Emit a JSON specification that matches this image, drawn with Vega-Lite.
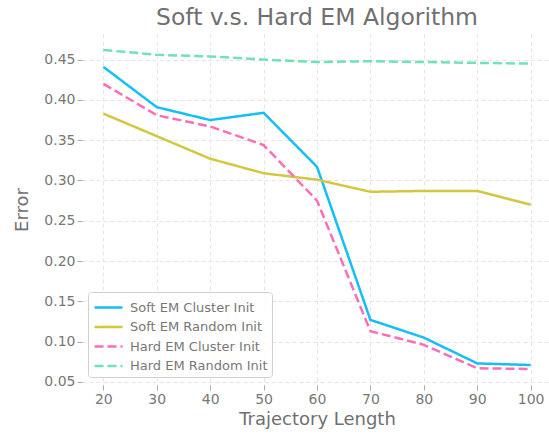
{
  "$schema": "https://vega.github.io/schema/vega-lite/v6.json",
  "autosize": "none",
  "width": 470,
  "height": 351,
  "padding": {"left": 82, "top": 34, "right": 0, "bottom": 52},
  "background": "white",
  "title": {"text": "Soft v.s. Hard EM Algorithm", "font": "DejaVu Sans", "fontSize": 23.5, "fontWeight": "normal", "color": "#707070", "offset": 5, "anchor": "middle"},
  "config": {
    "view": {"stroke": null},
    "font": "DejaVu Sans",
    "axis": {"labelFont": "DejaVu Sans", "titleFont": "DejaVu Sans", "labelFontSize": 14, "labelColor": "#777", "titleFontSize": 18, "titleFontWeight": "normal", "titleColor": "#707070", "domain": false, "tickColor": "#aaa", "tickSize": 5, "gridColor": "#e4e4e4", "gridDash": [4, 3], "gridWidth": 1}
  },
  "data": {"values": [
    {"len": 20, "s": "Soft EM Cluster Init", "err": 0.441},
    {"len": 30, "s": "Soft EM Cluster Init", "err": 0.391},
    {"len": 40, "s": "Soft EM Cluster Init", "err": 0.375},
    {"len": 50, "s": "Soft EM Cluster Init", "err": 0.384},
    {"len": 60, "s": "Soft EM Cluster Init", "err": 0.317},
    {"len": 70, "s": "Soft EM Cluster Init", "err": 0.127},
    {"len": 80, "s": "Soft EM Cluster Init", "err": 0.105},
    {"len": 90, "s": "Soft EM Cluster Init", "err": 0.073},
    {"len": 100, "s": "Soft EM Cluster Init", "err": 0.071},
    {"len": 20, "s": "Soft EM Random Init", "err": 0.383},
    {"len": 30, "s": "Soft EM Random Init", "err": 0.355},
    {"len": 40, "s": "Soft EM Random Init", "err": 0.327},
    {"len": 50, "s": "Soft EM Random Init", "err": 0.309},
    {"len": 60, "s": "Soft EM Random Init", "err": 0.301},
    {"len": 70, "s": "Soft EM Random Init", "err": 0.286},
    {"len": 80, "s": "Soft EM Random Init", "err": 0.287},
    {"len": 90, "s": "Soft EM Random Init", "err": 0.287},
    {"len": 100, "s": "Soft EM Random Init", "err": 0.270},
    {"len": 20, "s": "Hard EM Cluster Init", "err": 0.420},
    {"len": 30, "s": "Hard EM Cluster Init", "err": 0.381},
    {"len": 40, "s": "Hard EM Cluster Init", "err": 0.367},
    {"len": 50, "s": "Hard EM Cluster Init", "err": 0.344},
    {"len": 60, "s": "Hard EM Cluster Init", "err": 0.275},
    {"len": 70, "s": "Hard EM Cluster Init", "err": 0.113},
    {"len": 80, "s": "Hard EM Cluster Init", "err": 0.096},
    {"len": 90, "s": "Hard EM Cluster Init", "err": 0.067},
    {"len": 100, "s": "Hard EM Cluster Init", "err": 0.066},
    {"len": 20, "s": "Hard EM Random Init", "err": 0.462},
    {"len": 30, "s": "Hard EM Random Init", "err": 0.456},
    {"len": 40, "s": "Hard EM Random Init", "err": 0.454},
    {"len": 50, "s": "Hard EM Random Init", "err": 0.450},
    {"len": 60, "s": "Hard EM Random Init", "err": 0.447},
    {"len": 70, "s": "Hard EM Random Init", "err": 0.448},
    {"len": 80, "s": "Hard EM Random Init", "err": 0.447},
    {"len": 90, "s": "Hard EM Random Init", "err": 0.446},
    {"len": 100, "s": "Hard EM Random Init", "err": 0.445}
  ]},
  "mark": {"type": "line", "strokeWidth": 2.5},
  "encoding": {
    "x": {"field": "len", "type": "quantitative", "title": "Trajectory Length", "scale": {"domain": [16, 104], "nice": false, "zero": false}, "axis": {"values": [20, 30, 40, 50, 60, 70, 80, 90, 100], "titlePadding": 4}},
    "y": {"field": "err", "type": "quantitative", "title": "Error", "scale": {"domain": [0.0462, 0.4818], "nice": false, "zero": false}, "axis": {"values": [0.05, 0.1, 0.15, 0.2, 0.25, 0.3, 0.35, 0.4, 0.45], "format": ".2f", "titlePadding": 12}},
    "color": {"field": "s", "type": "nominal", "title": null,
      "scale": {"domain": ["Soft EM Cluster Init", "Soft EM Random Init", "Hard EM Cluster Init", "Hard EM Random Init"], "range": ["#13bff5", "#d3c73f", "#ff6eb4", "#6ee3b4"]},
      "legend": {"orient": "none", "legendX": 6, "legendY": 258, "symbolType": "M-1.4,0H1.4", "symbolSize": 400, "symbolOffset": 5, "symbolStrokeWidth": 2.5, "labelFontSize": 13, "labelOffset": 10, "labelColor": "#777", "labelFont": "DejaVu Sans", "strokeColor": "#d0d0d0", "fillColor": "rgba(255,255,255,0.85)", "cornerRadius": 3, "padding": 4, "rowPadding": 0.5}},
    "strokeDash": {"field": "s", "type": "nominal", "title": null,
      "scale": {"domain": ["Soft EM Cluster Init", "Soft EM Random Init", "Hard EM Cluster Init", "Hard EM Random Init"], "range": [[1, 0], [1, 0], [9, 4], [9, 4]]}}
  }
}
